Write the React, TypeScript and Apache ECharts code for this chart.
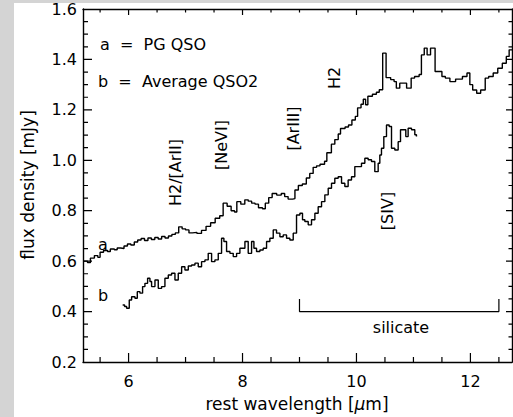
import React, { useEffect, useRef } from "react";
import * as echarts from "echarts";

// Curve a: PG QSO (bin start wavelength, flux)
const waveA = [5.2, 5.28, 5.33, 5.4, 5.46, 5.5, 5.56, 5.63, 5.68, 5.75, 5.8, 5.86, 5.92, 5.98, 6.04, 6.1, 6.16, 6.22, 6.28, 6.34, 6.4, 6.46, 6.52, 6.58, 6.64, 6.7, 6.76, 6.82, 6.88, 6.94, 7.0, 7.06, 7.12, 7.2, 7.28, 7.36, 7.44, 7.52, 7.6, 7.66, 7.73, 7.8, 7.86, 7.9, 7.97, 8.04, 8.1, 8.16, 8.22, 8.28, 8.35, 8.4, 8.46, 8.52, 8.6, 8.68, 8.74, 8.8, 8.88, 8.92, 8.98, 9.05, 9.12, 9.18, 9.24, 9.3, 9.36, 9.44, 9.48, 9.56, 9.62, 9.68, 9.72, 9.8, 9.86, 9.92, 9.98, 10.02, 10.08, 10.12, 10.16, 10.2, 10.28, 10.35, 10.4, 10.46, 10.52, 10.6, 10.66, 10.7, 10.76, 10.82, 10.88, 10.96, 11.02, 11.1, 11.14, 11.19, 11.24, 11.3, 11.38, 11.44, 11.5, 11.56, 11.64, 11.74, 11.86, 11.94, 11.99, 12.04, 12.11, 12.18, 12.26, 12.32, 12.4, 12.48, 12.56, 12.63, 12.68, 12.73];
const fluxA = [0.6, 0.594, 0.612, 0.622, 0.615, 0.635, 0.642, 0.638, 0.648, 0.645, 0.652, 0.65, 0.66, 0.668, 0.664, 0.676, 0.684, 0.69, 0.682, 0.692, 0.686, 0.694, 0.688, 0.698, 0.692, 0.7, 0.706, 0.712, 0.736, 0.728, 0.724, 0.712, 0.714, 0.71, 0.722, 0.738, 0.752, 0.77, 0.78, 0.83, 0.818, 0.8, 0.795, 0.836, 0.826, 0.843, 0.838, 0.83, 0.826, 0.812, 0.808, 0.83, 0.852, 0.868, 0.862, 0.868, 0.856, 0.846, 0.848, 0.882, 0.9, 0.906, 0.93, 0.948, 0.972, 0.978, 0.984, 0.996, 1.03, 1.064, 1.082, 1.104, 1.126, 1.132, 1.14, 1.16, 1.174, 1.208, 1.222, 1.242, 1.22, 1.254, 1.262, 1.27, 1.28, 1.425, 1.328, 1.32, 1.312, 1.286, 1.306, 1.306, 1.286, 1.326, 1.332, 1.34, 1.418, 1.445, 1.418, 1.445, 1.352, 1.352, 1.332, 1.326, 1.312, 1.322, 1.332, 1.346, 1.3, 1.279, 1.266, 1.279, 1.326, 1.332, 1.346, 1.365, 1.385, 1.412, 1.438, 1.438];

// Curve b: Average QSO2
const waveB = [5.896, 5.93, 5.966, 6.012, 6.053, 6.112, 6.153, 6.2, 6.246, 6.287, 6.334, 6.375, 6.404, 6.463, 6.521, 6.58, 6.638, 6.697, 6.755, 6.814, 6.872, 6.931, 6.989, 7.048, 7.106, 7.165, 7.223, 7.281, 7.34, 7.398, 7.457, 7.515, 7.574, 7.632, 7.673, 7.72, 7.779, 7.837, 7.896, 7.954, 8.013, 8.042, 8.1, 8.159, 8.2, 8.246, 8.305, 8.363, 8.422, 8.48, 8.539, 8.597, 8.656, 8.714, 8.773, 8.831, 8.89, 8.948, 9.007, 9.053, 9.094, 9.153, 9.211, 9.27, 9.328, 9.387, 9.445, 9.504, 9.562, 9.62, 9.679, 9.738, 9.796, 9.854, 9.913, 9.971, 10.03, 10.088, 10.147, 10.205, 10.264, 10.322, 10.381, 10.41, 10.439, 10.48, 10.527, 10.574, 10.615, 10.673, 10.732, 10.773, 10.819, 10.866, 10.907, 10.966, 11.024, 11.053];
const fluxB = [0.426, 0.42, 0.413, 0.446, 0.459, 0.453, 0.479, 0.473, 0.499, 0.512, 0.532, 0.519, 0.499, 0.525, 0.492, 0.499, 0.532, 0.545, 0.552, 0.525, 0.552, 0.578, 0.565, 0.581, 0.585, 0.592, 0.578, 0.598, 0.605, 0.631, 0.598, 0.605, 0.631, 0.691, 0.678, 0.638, 0.631, 0.618, 0.631, 0.651, 0.651, 0.678, 0.631, 0.678, 0.651, 0.638, 0.644, 0.651, 0.678, 0.691, 0.724, 0.711, 0.697, 0.704, 0.691, 0.684, 0.711, 0.783, 0.79, 0.764, 0.757, 0.744, 0.764, 0.79, 0.816, 0.836, 0.863, 0.889, 0.909, 0.929, 0.935, 0.909, 0.896, 0.922, 0.935, 0.975, 0.975, 0.988, 1.008, 1.002, 0.995, 0.955, 0.988, 1.021, 1.048, 1.094, 1.14, 1.134, 1.048, 1.041, 1.074, 1.121, 1.121, 1.094, 1.127, 1.121, 1.101, 1.094];

// Silicate bracket
const silicateX = [9.0, 9.0, 12.5, 12.5];
const silicateY = [0.45, 0.4, 0.4, 0.45];

// Axis tick values (major / minor)
const xMajorTicks = [6, 8, 10, 12];
const xMinorTicks = [5.5, 6.5, 7, 7.5, 8.5, 9, 9.5, 10.5, 11, 11.5, 12.5];
const yMajorTicks = [0.4, 0.6, 0.8, 1.0, 1.2, 1.4];
const yMinorTicks = [0.25, 0.3, 0.35, 0.45, 0.5, 0.55, 0.65, 0.7, 0.75, 0.85, 0.9, 0.95, 1.05, 1.1, 1.15, 1.25, 1.3, 1.35, 1.45, 1.5, 1.55];

const X_MIN = 5.2;
const X_MAX = 12.73;
const Y_MIN = 0.2;
const Y_MAX = 1.6;

const FONT = "DejaVu Sans";
const W = 513;
const H = 417;
const GRID = { left: 83, top: 9, right: 1, bottom: 55 };

export default function App() {
  const ref = useRef<HTMLDivElement>(null);
  useEffect(() => {
    if (!ref.current) return;
    const chart = echarts.init(ref.current, null, { renderer: "svg" });
    const lineBlack = { color: "#000", width: 1.4 };
    // data units per screen pixel, from the grid size
    const dx = (X_MAX - X_MIN) / (W - GRID.left - GRID.right);
    const dy = (Y_MAX - Y_MIN) / (H - GRID.top - GRID.bottom);
    const SEP = ["-", "-"];
    const tickData: any[] = [];
    const addX = (v: number, lb: number, lt: number) => {
      tickData.push([v, Y_MIN], [v, Y_MIN + lb * dy], SEP, [v, Y_MAX], [v, Y_MAX - lt * dy], SEP);
    };
    const addY = (v: number, ll: number, lr: number) => {
      tickData.push([X_MIN, v], [X_MIN + ll * dx, v], SEP, [X_MAX, v], [X_MAX - lr * dx, v], SEP);
    };
    xMajorTicks.forEach((v) => addX(v, 9, 6));
    xMinorTicks.forEach((v) => addX(v, 5, 3.5));
    yMajorTicks.forEach((v) => addY(v, 9, 6));
    yMinorTicks.forEach((v) => addY(v, 5, 3.5));

    const axisBase = (pos: string, showLabel: boolean) => ({
      type: "value",
      position: pos,
      axisLine: { show: true, lineStyle: { color: "#000", width: 1.4 } },
      axisTick: { show: false },
      minorTick: { show: false },
      splitLine: { show: false },
      axisLabel: {
        show: showLabel,
        color: "#000",
        fontFamily: FONT,
        fontSize: 16,
        showMinLabel: false,
        showMaxLabel: false,
        margin: 11,
      },
    });
    const textStyle = (size: number) => ({ fill: "#000", font: `${size}px "${FONT}"` });
    const rotText = (text: string, x: number, y: number) => ({
      type: "text",
      x,
      y,
      rotation: Math.PI / 2,
      style: { text, ...textStyle(16), align: "center", verticalAlign: "middle" },
    });
    const bottom = axisBase("bottom", true);
    const left = axisBase("left", true);
    chart.setOption({
      animation: false,
      grid: { ...GRID, containLabel: false, outerBoundsMode: "none" },
      xAxis: [
        { ...bottom, min: X_MIN, max: X_MAX, splitNumber: 4 },
        { ...axisBase("top", false), min: X_MIN, max: X_MAX, splitNumber: 4 },
      ],
      yAxis: [
        {
          ...left,
          min: Y_MIN,
          max: Y_MAX,
          interval: 0.2,
          axisLabel: {
            ...left.axisLabel,
            showMinLabel: true,
            showMaxLabel: true,
            margin: 6,
            formatter: (v: number) => v.toFixed(1),
          },
        },
        { ...axisBase("right", false), min: Y_MIN, max: Y_MAX, interval: 0.2 },
      ],
      series: [
        {
          type: "line",
          step: "end",
          showSymbol: false,
          data: waveA.map((x, i) => [x, fluxA[i]]),
          lineStyle: lineBlack,
          silent: true,
        },
        {
          type: "line",
          step: "end",
          showSymbol: false,
          data: waveB.map((x, i) => [x, fluxB[i]]),
          lineStyle: lineBlack,
          silent: true,
        },
        {
          type: "line",
          showSymbol: false,
          data: silicateX.map((x, i) => [x, silicateY[i]]),
          lineStyle: { color: "#000", width: 1.2 },
          silent: true,
        },
        {
          type: "line",
          showSymbol: false,
          connectNulls: false,
          clip: false,
          data: tickData,
          lineStyle: { color: "#000", width: 1.2 },
          silent: true,
        },
      ],
      graphic: [
        { type: "rect", shape: { x: 0, y: 0, width: 14, height: 417 }, style: { fill: "#d4d4d4" }, z: -10 },
        { type: "rect", shape: { x: 0, y: 0, width: 513, height: 3 }, style: { fill: "#d4d4d4" }, z: -10 },
        { type: "text", x: 100, y: 44, style: { text: "a  =  PG QSO", ...textStyle(16), verticalAlign: "middle" } },
        { type: "text", x: 98, y: 81, style: { text: "b  =  Average QSO2", ...textStyle(16), verticalAlign: "middle" } },
        rotText("H2/[ArII]", 175.5, 172.5),
        rotText("[NeVI]", 221, 145),
        rotText("[ArIII]", 293.5, 128.5),
        rotText("H2", 334, 78),
        rotText("[SIV]", 387, 211),
        { type: "text", x: 103, y: 244, style: { text: "a", ...textStyle(16), align: "center", verticalAlign: "middle" } },
        { type: "text", x: 103, y: 295, style: { text: "b", ...textStyle(16), align: "center", verticalAlign: "middle" } },
        { type: "text", x: 401, y: 327, style: { text: "silicate", ...textStyle(16), align: "center", verticalAlign: "middle" } },
        {
          type: "text",
          x: 297,
          y: 404,
          style: {
            text: "rest wavelength [{i|μ}m]",
            ...textStyle(17),
            align: "center",
            verticalAlign: "middle",
            rich: { i: { fontStyle: "italic", fontFamily: FONT, fontSize: 17, fill: "#000" } },
          },
        },
        {
          type: "text",
          x: 28,
          y: 185,
          rotation: Math.PI / 2,
          style: { text: "flux density [mJy]", ...textStyle(17), align: "center", verticalAlign: "middle" },
        },
      ],
    });
    return () => chart.dispose();
  }, []);
  return (
    <div
      ref={ref}
      style={{ position: "fixed", left: 0, top: 0, width: W, height: H, background: "#fff" }}
    />
  );
}
